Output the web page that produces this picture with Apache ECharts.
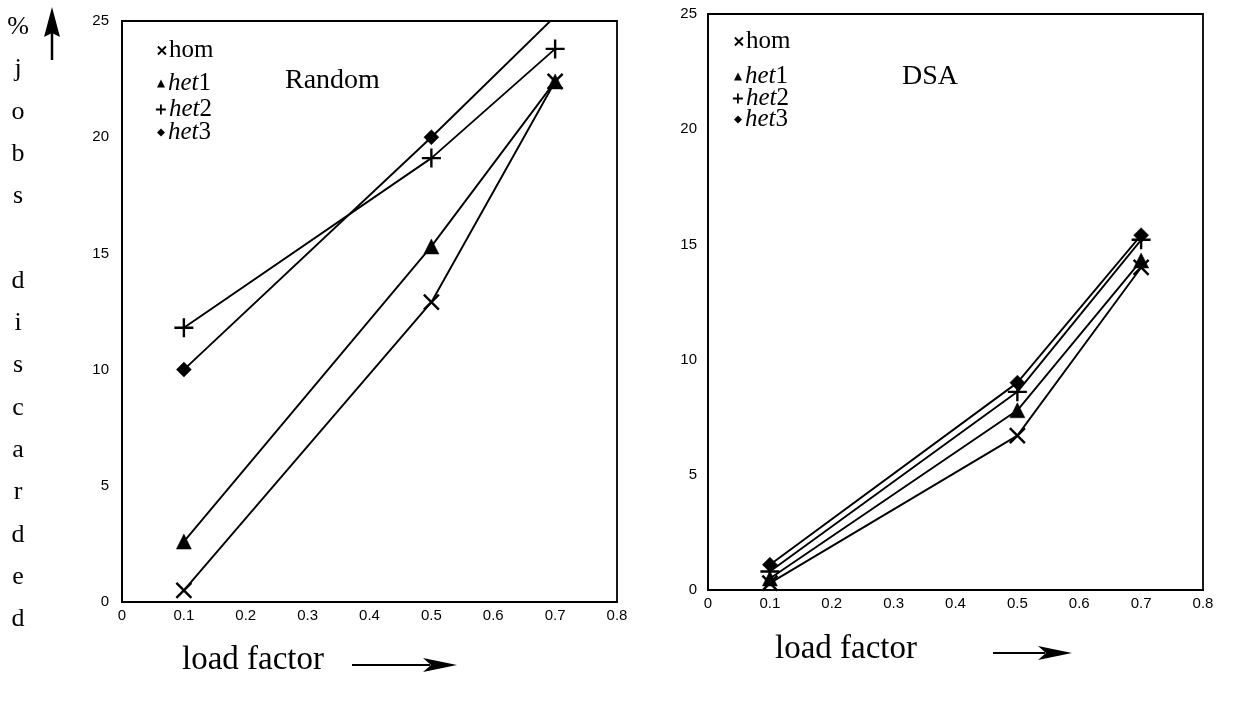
<!DOCTYPE html>
<html>
<head>
<meta charset="utf-8">
<script src="https://cdn.jsdelivr.net/npm/echarts@6/dist/echarts.min.js"></script>
<style>html,body{margin:0;padding:0;background:#fff}#c{width:1233px;height:702px}</style>
</head>
<body>
<div id="c"></div>
<script>
// ---- data ----
const loads = [0.1, 0.5, 0.7];
const seriesNames = ['hom', 'het1', 'het2', 'het3'];
// Random
const randomHom  = [0.5, 12.9, 22.4];
const randomHet1 = [2.6, 15.3, 22.4];
const randomHet2 = [11.8, 19.1, 23.8];
const randomHet3 = [10.0, 20.0, 25.2];
// DSA
const dsaHom  = [0.3, 6.7, 14.0];
const dsaHet1 = [0.5, 7.8, 14.3];
const dsaHet2 = [0.8, 8.6, 15.2];
const dsaHet3 = [1.1, 9.0, 15.4];
const panelTitles = ['Random', 'DSA'];
const xMin = 0, xMax = 0.8, xStep = 0.1;
const yMin = 0, yMax = 25, yStep = 5;
const xAxisTitle = 'load factor';
const yAxisTitle = '%\nj\no\nb\ns\n\nd\ni\ns\nc\na\nr\nd\ne\nd';

// ---- style ----
const symX = 'path://M0,0L10,10M10,0L0,10';
const symPlus = 'path://M5,0L5,10M0,5L10,5';
const symbols = { hom: symX, het1: 'triangle', het2: symPlus, het3: 'diamond' };
const symSizes = { hom: 15, het1: 15, het2: 19, het3: 15 };
const serif = '"Liberation Serif", "DejaVu Serif", serif';
const sans = '"Liberation Sans", Arial, sans-serif';

const panelValues = [
  [randomHom, randomHet1, randomHet2, randomHet3],
  [dsaHom, dsaHet1, dsaHet2, dsaHet3]
];

const grids = [
  { left: 122, right: 1233 - 617, top: 21, bottom: 702 - 602 },
  { left: 708, right: 1233 - 1203, top: 14, bottom: 702 - 590 }
];

function xAxis(i) {
  return {
    type: 'value', gridIndex: i, min: xMin, max: xMax, interval: xStep,
    axisLine: { show: true, onZero: false, lineStyle: { color: '#000', width: 1.8 } },
    axisTick: { show: false },
    splitLine: { show: false },
    axisLabel: { color: '#000', fontFamily: sans, fontSize: 15, margin: 6,
      formatter: v => v === 0 ? '0' : v.toFixed(1) }
  };
}
function yAxis(i) {
  return {
    type: 'value', gridIndex: i, min: yMin, max: yMax, interval: yStep,
    axisLine: { show: true, lineStyle: { color: '#000', width: 1.8 } },
    axisTick: { show: false },
    splitLine: { show: false },
    axisLabel: { color: '#000', fontFamily: sans, fontSize: 15, margin: i === 0 ? 13 : 11 }
  };
}

const series = [];
panelValues.forEach((vals, p) => {
  vals.forEach((arr, k) => {
    const name = seriesNames[k];
    series.push({
      name, type: 'line', xAxisIndex: p, yAxisIndex: p, clip: true,
      data: loads.map((x, j) => [x, arr[j]]),
      symbol: symbols[name], symbolSize: symSizes[name],
      lineStyle: { color: '#000', width: 1.9 },
      itemStyle: { color: '#000', borderColor: '#000', borderWidth: (name === 'hom' || name === 'het2') ? 2.4 : 0.5 },
      emphasis: { disabled: true },
      z: 3
    });
  });
});

const legendPos = [
  [{ l: 152, t: 33 }, { l: 152, t: 66 }, { l: 150, t: 92 }, { l: 152, t: 115 }],
  [{ l: 729, t: 24 }, { l: 729, t: 59 }, { l: 727, t: 81 }, { l: 729, t: 102 }]
];
const legends = [];
legendPos.forEach(panel => {
  panel.forEach((pos, k) => {
    const name = seriesNames[k];
    legends.push({
      left: pos.l, top: pos.t, orient: 'vertical', selectedMode: false,
      itemWidth: name === 'het2' ? 10 : 8, itemHeight: name === 'het2' ? 10 : 8, itemGap: 0,
      data: [{ name, icon: symbols[name],
        itemStyle: { color: '#000', borderColor: '#000', borderWidth: (name === 'hom' || name === 'het2') ? 1.8 : 0 } }],
      formatter: n => n === 'hom' ? '{r|hom}' : '{i|het}{r|' + n.slice(3) + '}',
      textStyle: {
        padding: [0, 0, 0, -2],
        rich: {
          r: { fontFamily: serif, fontSize: 25, color: '#000' },
          i: { fontFamily: serif, fontSize: 25, fontStyle: 'italic', color: '#000' }
        }
      }
    });
  });
});

const arrowHead = (x, y, dir) => {
  // dir: 'right' or 'up'; (x,y) = tip
  if (dir === 'right') return [[x, y], [x - 34, y - 7], [x - 26, y], [x - 34, y + 7]];
  return [[x, y], [x - 8, y + 30], [x, y + 26], [x + 8, y + 30]];
};

const graphic = [
  { type: 'text', left: 285, top: 67, style: { text: panelTitles[0], font: '28px ' + serif, fill: '#000' } },
  { type: 'text', left: 902, top: 63, style: { text: panelTitles[1], font: '28px ' + serif, fill: '#000' } },
  { type: 'text', left: 182, top: 644, style: { text: xAxisTitle, font: '33px ' + serif, fill: '#000' } },
  { type: 'text', left: 775, top: 633, style: { text: xAxisTitle, font: '33px ' + serif, fill: '#000' } },
  { type: 'line', shape: { x1: 352, y1: 665, x2: 430, y2: 665 }, style: { stroke: '#000', lineWidth: 2.2 } },
  { type: 'polygon', shape: { points: arrowHead(457, 665, 'right') }, style: { fill: '#000' } },
  { type: 'line', shape: { x1: 993, y1: 653, x2: 1045, y2: 653 }, style: { stroke: '#000', lineWidth: 2.2 } },
  { type: 'polygon', shape: { points: arrowHead(1072, 653, 'right') }, style: { fill: '#000' } },
  { type: 'text', x: 18, y: 6, style: { text: yAxisTitle, font: '26px ' + serif, fill: '#000', align: 'center', lineHeight: 42.3 } },
  { type: 'line', shape: { x1: 52, y1: 30, x2: 52, y2: 60 }, style: { stroke: '#000', lineWidth: 2.5 } },
  { type: 'polygon', shape: { points: arrowHead(52, 7, 'up') }, style: { fill: '#000' } }
];

const chart = echarts.init(document.getElementById('c'), null, { renderer: 'canvas' });
chart.setOption({
  animation: false,
  backgroundColor: '#fff',
  grid: grids.map(g => Object.assign({ show: true, borderColor: '#000', borderWidth: 1.8, backgroundColor: 'transparent' }, g)),
  xAxis: [xAxis(0), xAxis(1)],
  yAxis: [yAxis(0), yAxis(1)],
  legend: legends,
  series,
  graphic
});
</script>
</body>
</html>
